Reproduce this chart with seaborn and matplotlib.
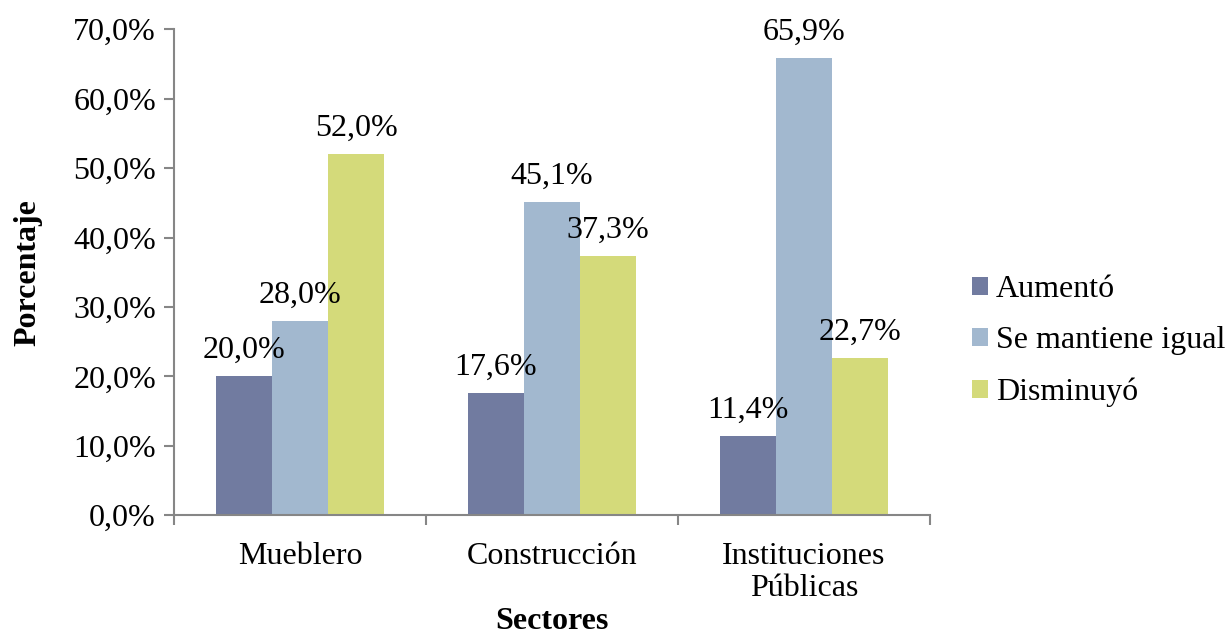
import matplotlib
matplotlib.use("Agg")
import matplotlib.pyplot as plt
import seaborn as sns
import pandas as pd
from matplotlib.ticker import FuncFormatter

sectores = ["Mueblero", "Construcción", "Instituciones\nPúblicas"]
series = ["Aumentó", "Se mantiene igual", "Disminuyó"]
aumento = [20.0, 17.6, 11.4]
mantiene = [28.0, 45.1, 65.9]
disminuyo = [52.0, 37.3, 22.7]
colores = ["#717BA0", "#A2B8CF", "#D4DA7A"]

df = pd.DataFrame({
    "Sector": sectores * 3,
    "Serie": [series[0]] * 3 + [series[1]] * 3 + [series[2]] * 3,
    "Valor": aumento + mantiene + disminuyo,
})

sns.set_style("white", {"xtick.bottom": True, "ytick.left": True})
plt.rcParams["font.family"] = ["Liberation Serif", "DejaVu Serif"]
plt.rcParams["font.size"] = 23
plt.rcParams["text.color"] = "black"
plt.rcParams["xtick.color"] = "black"
plt.rcParams["ytick.color"] = "black"
plt.rcParams["axes.labelcolor"] = "black"

fs = 23

fig = plt.figure(figsize=(12.28, 6.36), dpi=100)
ax = fig.add_axes([0.1417, 0.19, 0.6156, 0.764])

sns.barplot(data=df, x="Sector", y="Valor", hue="Serie", palette=colores,
            width=0.667, saturation=1, ax=ax, edgecolor="none")

for cont in ax.containers:
    labels = [f"{v:.1f}".replace(".", ",") + "%" for v in cont.datavalues]
    ax.bar_label(cont, labels=labels, padding=8, fontsize=fs, color="black")

ax.set_ylim(0, 70)
ax.set_xlim(-0.5, 2.5)
ax.set_yticks(range(0, 71, 10))
ax.yaxis.set_major_formatter(FuncFormatter(lambda v, p: f"{v:.1f}".replace(".", ",") + "%"))
ax.set_xticks([0, 1, 2])
ax.set_xticklabels(sectores, fontsize=fs, linespacing=1.15)
ax.set_xticks([-0.5, 0.5, 1.5, 2.5], minor=True)
ax.tick_params(axis="x", which="major", length=0, pad=19, labelcolor="black")
ax.tick_params(axis="x", which="minor", length=7, color="#868686", width=1.5)
ax.tick_params(axis="y", length=7, color="#868686", width=1.5, labelsize=fs, pad=6,
               labelcolor="black")

for s in ["top", "right"]:
    ax.spines[s].set_visible(False)
for s in ["left", "bottom"]:
    ax.spines[s].set_color("#868686")
    ax.spines[s].set_linewidth(1.5)

ax.set_xlabel("Sectores", fontsize=fs, fontweight="bold", labelpad=3, color="black")
ax.set_ylabel("Porcentaje", fontsize=fs, fontweight="bold", labelpad=22, color="black")

leg = ax.legend(loc="center left", bbox_to_anchor=(1.0556, 0.358), frameon=False,
                fontsize=fs, handlelength=0.5, handleheight=0.5, handletextpad=0.25,
                labelspacing=0.7, borderpad=0, borderaxespad=0)
for t in leg.get_texts():
    t.set_color("black")

fig.savefig("out.png", dpi=100)
